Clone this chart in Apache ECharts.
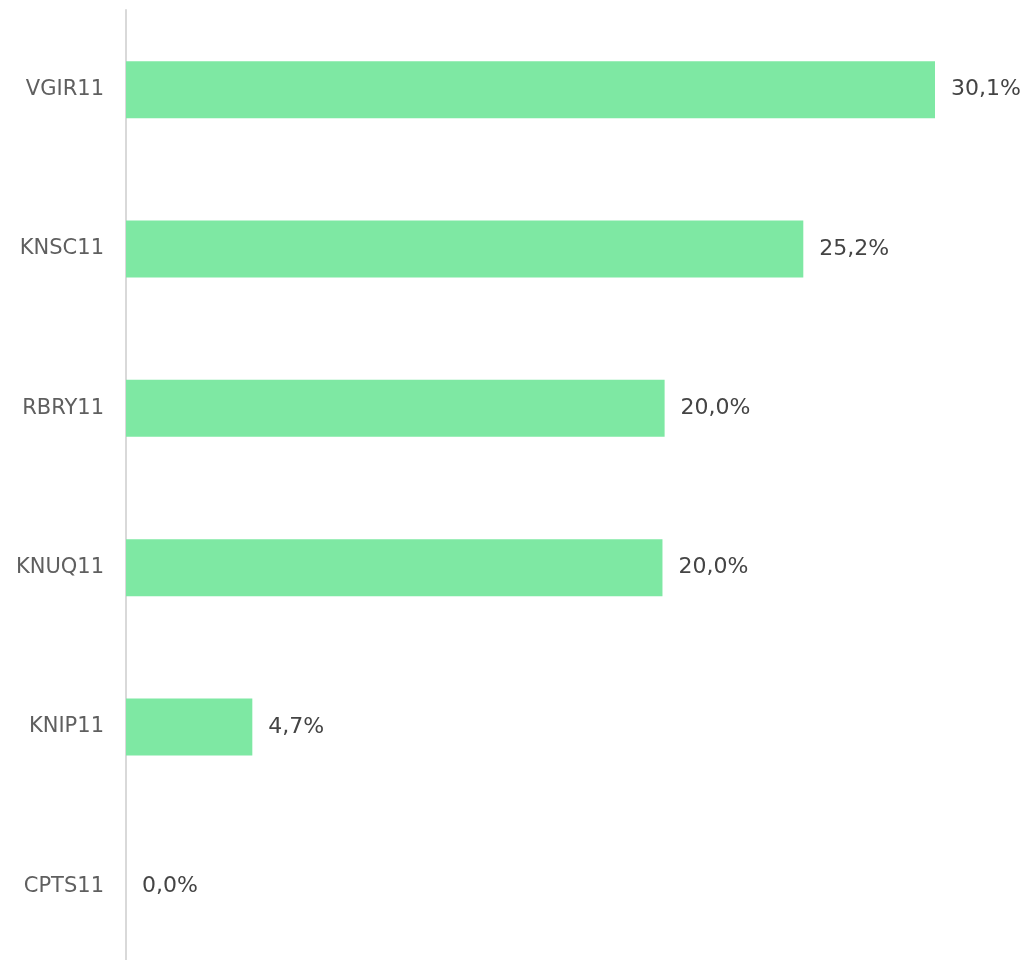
<!DOCTYPE html>
<html>
<head>
<meta charset="utf-8">
<script src="https://cdn.jsdelivr.net/npm/echarts@6/dist/echarts.min.js"></script>
<style>
  html, body { margin: 0; padding: 0; background: #fff; overflow: hidden; }
  #chart { width: 1028px; height: 966px; }
</style>
</head>
<body>
<div id="chart"></div>
<script>
// categories, top to bottom
const tickers = ["VGIR11", "KNSC11", "RBRY11", "KNUQ11", "KNIP11", "CPTS11"];
const weights = [30.1, 25.2, 20.04, 19.96, 4.7, 0.0];

const chart = echarts.init(document.getElementById("chart"));

chart.setOption({
  animation: false,
  grid: { left: 126, right: 93, top: 10, bottom: 0, containLabel: false },
  xAxis: {
    type: "value",
    min: 0,
    max: 30.1,
    show: false,
  },
  yAxis: {
    type: "category",
    inverse: true,
    data: tickers,
    axisTick: { show: false },
    axisLine: { lineStyle: { color: "#d9d9d9", width: 2 } },
    axisLabel: {
      color: "#5f5f5f",
      fontSize: 21,
      fontFamily: "DejaVu Sans",
      margin: 22,
    },
  },
  series: [
    {
      type: "bar",
      data: weights,
      barWidth: 57,
      itemStyle: { color: "#7ee8a3" },
      label: {
        show: true,
        position: "right",
        distance: 16,
        color: "#444",
        fontSize: 22,
        fontFamily: "DejaVu Sans",
        // formato brasileiro: vírgula decimal
        formatter: (p) => p.value.toFixed(1).replace(".", ",") + "%",
      },
    },
  ],
});
</script>
</body>
</html>
